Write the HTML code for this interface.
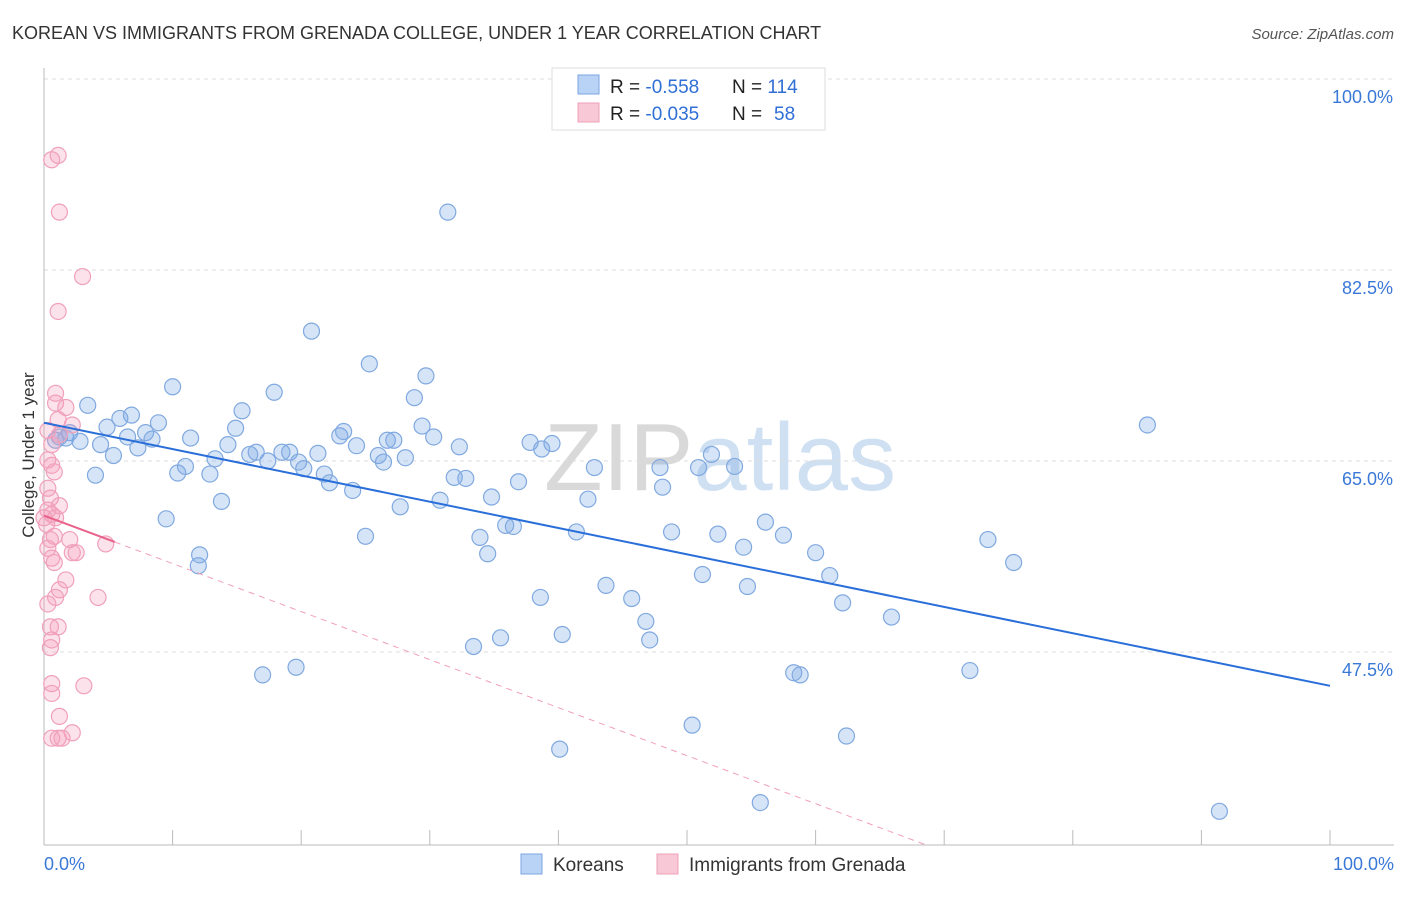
<!DOCTYPE html>
<html><head><meta charset="utf-8"><style>
body{margin:0;background:#fff;font-family:"Liberation Sans",sans-serif;}
svg text{font-family:"Liberation Sans",sans-serif;}
</style></head><body>
<svg id="chart" width="1406" height="892" xmlns="http://www.w3.org/2000/svg">
<text x="12" y="39" font-size="18" fill="#333">KOREAN VS IMMIGRANTS FROM GRENADA COLLEGE, UNDER 1 YEAR CORRELATION CHART</text>
<text x="1394" y="39" font-size="15" fill="#555" text-anchor="end" font-style="italic">Source: ZipAtlas.com</text>
<text x="720" y="490" font-size="96" text-anchor="middle" fill="#d8dde6" opacity="0.7"><tspan fill="#c9c9c9">ZIP</tspan><tspan fill="#bcd3ee">atlas</tspan></text>
<g id="grid"></g>
<g id="axes"></g>
<g id="pts"></g>
<g id="trend"></g>
<text transform="translate(34,455) rotate(-90)" font-size="17" fill="#333" text-anchor="middle">College, Under 1 year</text>
<g>
<rect x="552" y="68" width="273" height="62" fill="#fff" stroke="#ddd"/>
<rect x="578" y="75" width="21" height="19" fill="#b8d3f5" stroke="#7aa5e0"/>
<rect x="578" y="103" width="21" height="19" fill="#f9c8d6" stroke="#f0a0b8"/>
<text x="610" y="93" font-size="19" fill="#222">R = <tspan fill="#2f6fd6">-0.558</tspan><tspan x="732">N = </tspan><tspan fill="#2f6fd6">114</tspan></text>
<text x="610" y="120" font-size="19" fill="#222">R = <tspan fill="#2f6fd6">-0.035</tspan><tspan x="732">N = </tspan><tspan fill="#2f6fd6" x="774">58</tspan></text>
</g>
<g>
<rect x="521" y="854" width="21" height="20" fill="#b8d3f5" stroke="#7aa5e0"/>
<text x="553" y="871" font-size="19" fill="#333">Koreans</text>
<rect x="657" y="854" width="21" height="20" fill="#f9c8d6" stroke="#f0a0b8"/>
<text x="689" y="871" font-size="19" fill="#333">Immigrants from Grenada</text>
</g>
</svg>
<script>
const blueX=[3.4,1.2,2.0,2.8,4.0,4.4,4.9,5.4,5.9,6.8,6.5,7.3,7.9,8.4,8.9,9.5,10.0,10.4,11.0,11.4,12.0,12.1,12.9,13.3,13.8,14.3,14.9,15.4,16.0,16.5,17.0,17.4,17.9,18.5,19.1,19.6,19.8,20.2,20.8,21.3,21.8,22.2,23.0,23.3,24.0,24.3,25.0,25.3,26.0,26.4,26.7,27.2,27.7,28.1,28.8,29.4,29.7,30.3,30.8,31.4,31.9,32.3,32.8,33.4,33.9,34.5,34.8,35.5,35.9,36.5,36.9,37.8,38.6,38.7,39.5,40.1,40.3,41.4,42.3,42.8,43.7,45.7,46.8,47.1,47.9,48.1,48.8,50.4,50.9,51.2,51.9,52.4,53.7,54.4,54.7,55.7,56.1,57.5,58.3,58.8,60.0,61.1,62.1,62.4,65.9,72.0,73.4,75.4,85.8,91.4,0.9,1.7];
const blueY=[70.1,67.2,67.6,66.8,63.7,66.5,68.1,65.5,68.9,69.2,67.2,66.2,67.6,67.0,68.5,59.7,71.8,63.9,64.5,67.1,55.4,56.4,63.8,65.2,61.3,66.5,68.0,69.6,65.6,65.8,45.4,65.0,71.3,65.8,65.8,46.1,64.9,64.3,76.9,65.7,63.8,63.0,67.3,67.7,62.3,66.4,58.1,73.9,65.5,64.9,66.9,66.9,60.8,65.3,70.8,68.2,72.8,67.2,61.4,87.8,63.5,66.3,63.4,48.0,58.0,56.5,61.7,48.8,59.1,59.0,63.1,66.7,52.5,66.1,66.6,38.6,49.1,58.5,61.5,64.4,53.6,52.4,50.3,48.6,64.4,62.6,58.5,40.8,64.4,54.6,65.6,58.3,64.5,57.1,53.5,33.7,59.4,58.2,45.6,45.4,56.6,54.5,52.0,39.8,50.7,45.8,57.8,55.7,68.3,32.9,66.9,67.1];
const pinkX=[1.1,0.6,1.2,3.0,1.1,0.9,0.9,1.7,1.1,2.2,0.3,1.2,0.6,0.3,0.6,0.8,0.3,0.5,1.2,0.3,0.6,0.9,0.0,0.8,2.0,2.2,2.5,0.3,0.6,0.8,1.7,1.2,0.9,4.2,0.3,1.1,0.5,0.6,0.5,0.6,0.6,3.1,1.2,2.2,0.6,1.1,1.4,4.8,0.5,0.2];
const pinkY=[93.0,92.6,87.8,81.9,78.7,71.2,70.3,69.9,68.8,68.3,67.8,67.4,66.5,65.1,64.6,64.0,62.5,61.6,60.9,60.5,60.1,59.8,59.8,58.1,57.8,56.6,56.6,57.0,56.1,55.7,54.1,53.2,52.5,52.5,51.9,49.8,49.8,48.6,47.9,44.6,43.7,44.4,41.6,40.1,39.6,39.6,39.6,57.4,57.8,59.2];
const yTicks=[100,82.5,65,47.5];
const yTickLabels=["100.0%","82.5%","65.0%","47.5%"];
const blueTrend=[68.5,44.4];
const pinkTrend=[60.0,-0.44];
const NS="http://www.w3.org/2000/svg";
const xs=v=>44+v*12.86, ys=v=>79+(100-v)*10.914;
function mk(t,a,p){const e=document.createElementNS(NS,t);for(const k in a)e.setAttribute(k,a[k]);p.appendChild(e);return e;}
const grid=document.getElementById('grid'),axes=document.getElementById('axes'),pts=document.getElementById('pts'),tr=document.getElementById('trend');
yTicks.forEach((v,i)=>{
 const l=mk('line',{x1:44,x2:1394,y1:ys(v),y2:ys(v),stroke:'#ddd','stroke-dasharray':'4,4'},grid);
 
 
 const t=mk('text',{x:1393,y:ys(v)+24,'font-size':18,fill:'#3a78d8','text-anchor':'end'},axes);t.textContent=yTickLabels[i];
 
 
});
mk('line',{x1:44,x2:44,y1:68,y2:845,stroke:'#bbb'},axes);
mk('line',{x1:44,x2:1394,y1:845,y2:845,stroke:'#bbb'},axes);
for(let i=1;i<=10;i++){mk('line',{x1:xs(i*10),x2:xs(i*10),y1:830,y2:845,stroke:'#bbb'},axes);}
let t0=mk('text',{x:44,y:870,'font-size':18,fill:'#3a78d8'},axes);t0.textContent='0.0%';


let t1=mk('text',{x:1394,y:870,'font-size':18,fill:'#3a78d8','text-anchor':'end'},axes);t1.textContent='100.0%';


blueX.forEach((x,i)=>{const c=mk('circle',{cx:xs(x),cy:ys(blueY[i]),r:8,fill:'rgba(120,165,230,0.3)',stroke:'#80a9e0','stroke-width':1.2},pts);
 
 });
pinkX.forEach((x,i)=>{const c=mk('circle',{cx:xs(x),cy:ys(pinkY[i]),r:8,fill:'rgba(245,160,190,0.3)',stroke:'#f0a0ba','stroke-width':1.2},pts);
 
 });
const bl=mk('line',{x1:xs(0),y1:ys(blueTrend[0]),x2:xs(100),y2:ys(blueTrend[1]),stroke:'#2a6fd9','stroke-width':2},tr);


const xEnd=(pinkTrend[0]-29.8)/(-pinkTrend[1]);
const pd=mk('line',{x1:xs(5.5),y1:ys(pinkTrend[0]+pinkTrend[1]*5.5),x2:xs(xEnd),y2:ys(pinkTrend[0]+pinkTrend[1]*xEnd),stroke:'#f0a0ba','stroke-width':1,'stroke-dasharray':'6,5'},tr);


const ps=mk('line',{x1:xs(0),y1:ys(pinkTrend[0]),x2:xs(5.5),y2:ys(pinkTrend[0]+pinkTrend[1]*5.5),stroke:'#e8628c','stroke-width':2},tr);


</script>
</body></html>
